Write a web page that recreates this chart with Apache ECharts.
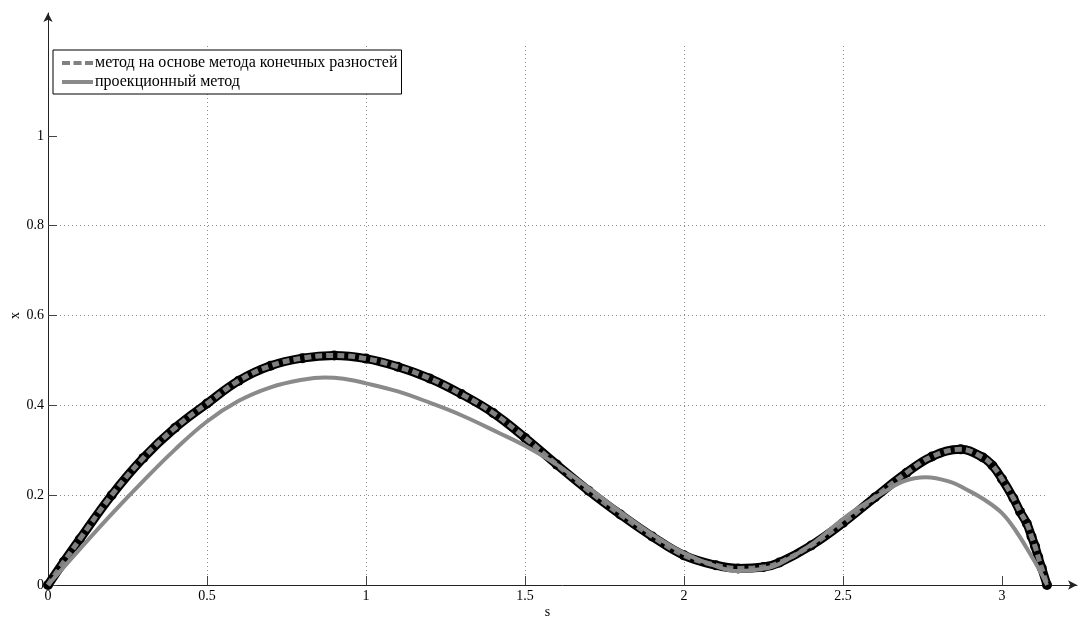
<!DOCTYPE html>
<html>
<head>
<meta charset="utf-8">
<script src="https://cdn.jsdelivr.net/npm/echarts@6/dist/echarts.min.js"></script>
<style>
html,body{margin:0;padding:0;background:#fff;}
#chart{width:1081px;height:617px;}
</style>
</head>
<body>
<div id="chart"></div>
<script>
// ---- data ----
const fdName = 'метод на основе метода конечных разностей';
const projName = 'проекционный метод';

const fdS = [0, 0.05, 0.1, 0.2, 0.3, 0.4, 0.5, 0.6, 0.7, 0.8, 0.9, 1.0, 1.1, 1.2, 1.3, 1.4, 1.5, 1.6, 1.7, 1.8, 1.9, 2.0, 2.1, 2.17, 2.25, 2.3, 2.4, 2.5, 2.6, 2.7, 2.78, 2.87, 2.94, 2.97, 3.0, 3.036, 3.057, 3.078, 3.093, 3.104, 3.114, 3.125, 3.1416];
const fdX = [0, 0.052, 0.102, 0.2, 0.283, 0.35, 0.404, 0.455, 0.488, 0.505, 0.511, 0.504, 0.486, 0.46, 0.425, 0.383, 0.328, 0.268, 0.21, 0.157, 0.108, 0.066, 0.044, 0.037, 0.04, 0.05, 0.088, 0.138, 0.195, 0.25, 0.286, 0.302, 0.284, 0.266, 0.236, 0.193, 0.163, 0.137, 0.108, 0.086, 0.062, 0.038, 0];

const projS = [0, 0.1, 0.2, 0.3, 0.4, 0.5, 0.6, 0.7, 0.8, 0.87, 0.93, 1.0, 1.1, 1.2, 1.3, 1.42, 1.5, 1.6, 1.7, 1.8, 1.9, 2.0, 2.1, 2.17, 2.25, 2.3, 2.4, 2.52, 2.63, 2.69, 2.76, 2.84, 2.89, 2.94, 3.0, 3.046, 3.088, 3.119, 3.1416];
const projX = [0, 0.08, 0.158, 0.232, 0.302, 0.364, 0.41, 0.44, 0.457, 0.462, 0.459, 0.449, 0.431, 0.406, 0.378, 0.338, 0.31, 0.268, 0.216, 0.163, 0.113, 0.071, 0.042, 0.031, 0.036, 0.047, 0.09, 0.158, 0.207, 0.231, 0.24, 0.229, 0.212, 0.192, 0.16, 0.118, 0.07, 0.032, 0];

const xTicks = [0, 0.5, 1, 1.5, 2, 2.5, 3];
const yTicks = [0, 0.2, 0.4, 0.6, 0.8, 1];
const xName = 's';
const yName = 'x';

// ---- chart ----
const FONT = "'Liberation Serif', 'Times New Roman', serif";
const fdData = fdS.map((s, i) => [s, fdX[i]]);
const projData = projS.map((s, i) => [s, projX[i]]);

const chart = echarts.init(document.getElementById('chart'), null, {renderer: 'canvas'});
const gridLine = {show: true, showMinLine: false, showMaxLine: false, lineStyle: {color: '#8c8c8c', width: 1, type: [1, 3]}};
const option = {
  animation: false,
  backgroundColor: '#fff',
  textStyle: {fontFamily: FONT},
  grid: [
    {left: 48, right: 34, top: 46, bottom: 32, containLabel: false, outerBoundsMode: 'none'},
    {left: 48, right: 4, top: 13, bottom: 32, containLabel: false, outerBoundsMode: 'none'}
  ],
  legend: {
    orient: 'vertical',
    left: 53, top: 50,
    backgroundColor: '#fff',
    borderColor: '#000', borderWidth: 1, borderRadius: 0,
    padding: [5, 4, 4, 9],
    itemGap: 3,
    itemWidth: 31, itemHeight: 4,
    textStyle: {fontFamily: FONT, fontSize: 16, color: '#000', padding: [0, 0, 0, -3]},
    data: [
      {name: fdName, icon: 'path://M0,0h8v4h-8z M11.5,0h8v4h-8z M23,0h8v4h-8z', itemStyle: {color: '#808080'}},
      {name: projName, icon: 'rect', itemStyle: {color: '#8a8a8a'}}
    ]
  },
  xAxis: [
    {
      type: 'value', gridIndex: 0, min: 0, max: Math.PI,
      name: xName, nameLocation: 'middle', nameGap: 20, nameMoveOverlap: false,
      nameTextStyle: {fontFamily: FONT, fontSize: 14, color: '#000'},
      axisLine: {show: false},
      axisTick: {show: true, inside: true, length: 9, customValues: xTicks, lineStyle: {color: '#444'}},
      axisLabel: {show: true, customValues: xTicks, margin: 4, fontFamily: FONT, fontSize: 14, color: '#000'},
      splitLine: gridLine
    },
    {
      type: 'value', gridIndex: 1, min: 0, max: 1,
      axisLine: {show: true, symbol: ['none', 'arrow'], symbolSize: [7, 9], lineStyle: {color: '#222', width: 1}},
      axisTick: {show: false}, axisLabel: {show: false}, splitLine: {show: false}
    }
  ],
  yAxis: [
    {
      type: 'value', gridIndex: 0, min: 0, max: 1.2,
      name: yName, nameLocation: 'middle', nameGap: 26, nameRotate: 90, nameMoveOverlap: false,
      nameTextStyle: {fontFamily: FONT, fontSize: 14, color: '#000'},
      axisLine: {show: false},
      axisTick: {show: true, inside: true, length: 9, customValues: yTicks, lineStyle: {color: '#444'}},
      axisLabel: {show: true, customValues: yTicks, margin: 4, fontFamily: FONT, fontSize: 14, color: '#000'},
      splitLine: gridLine
    },
    {
      type: 'value', gridIndex: 1, min: 0, max: 1,
      axisLine: {show: true, symbol: ['none', 'arrow'], symbolSize: [7, 9], lineStyle: {color: '#222', width: 1}},
      axisTick: {show: false}, axisLabel: {show: false}, splitLine: {show: false}
    }
  ],
  series: [
    {
      name: 'markers', type: 'line', xAxisIndex: 0, yAxisIndex: 0,
      data: fdData, smooth: 0.4,
      symbol: 'circle', symbolSize: 10, showAllSymbol: true,
      itemStyle: {color: '#000'},
      lineStyle: {color: '#000', width: 9},
      silent: true, z: 2
    },
    {
      name: fdName, type: 'line', xAxisIndex: 0, yAxisIndex: 0,
      data: fdData, smooth: 0.4, symbol: 'none',
      itemStyle: {color: '#808080'},
      lineStyle: {color: '#808080', width: 5, type: [7, 4]},
      silent: true, z: 3
    },
    {
      name: projName, type: 'line', xAxisIndex: 0, yAxisIndex: 0,
      data: projData, smooth: 0.4, symbol: 'none',
      itemStyle: {color: '#8a8a8a'},
      lineStyle: {color: '#8a8a8a', width: 4},
      silent: true, z: 4
    }
  ]
};
chart.setOption(option);
</script>
</body>
</html>
